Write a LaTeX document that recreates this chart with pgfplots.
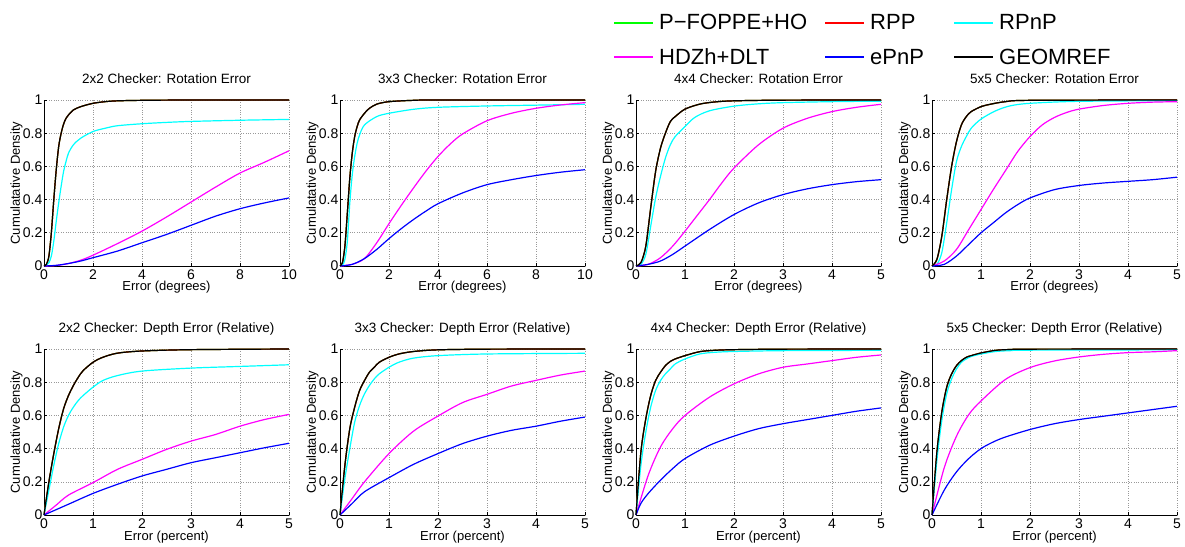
\documentclass[border=0pt]{standalone}
\usepackage{fontspec}
\setmainfont{Liberation Sans}
\usepackage{pgfplots}
\pgfplotsset{compat=1.18}
\usepackage{pgfplotstable}

\definecolor{mgreen}{rgb}{0,1,0}
\definecolor{mred}{rgb}{1,0,0}
\definecolor{mcyan}{rgb}{0,1,1}
\definecolor{mmag}{rgb}{1,0,1}
\definecolor{mblue}{rgb}{0,0,1}

% GEOMREF / RPP / P-FOPPE+HO curves (overlapping)
\pgfplotstableread{
x y
0 0
0.1 0.01
0.2 0.06
0.3 0.2
0.4 0.4
0.5 0.58
0.6 0.72
0.7 0.8
0.8 0.855
0.9 0.89
1.0 0.91
1.2 0.94
1.5 0.96
2 0.98
2.5 0.99
3 0.995
4 0.998
6 1
10 1
}\blkA
\pgfplotstableread{
x y
0 0
0.1 0.02
0.2 0.12
0.3 0.32
0.4 0.53
0.5 0.68
0.6 0.78
0.7 0.84
0.8 0.88
1 0.92
1.2 0.95
1.5 0.975
2 0.99
3 0.998
4 1
10 1
}\blkB
\pgfplotstableread{
x y
0 0
0.1 0.02
0.2 0.12
0.3 0.35
0.4 0.57
0.5 0.71
0.6 0.8
0.7 0.87
0.8 0.9
1 0.945
1.3 0.975
1.6 0.988
2 0.995
3 0.999
5 1
}\blkC
\pgfplotstableread{
x y
0 0
0.1 0.04
0.2 0.18
0.3 0.4
0.4 0.6
0.5 0.75
0.6 0.85
0.7 0.9
0.8 0.93
1 0.96
1.2 0.975
1.5 0.99
2 0.998
5 1
}\blkD
\pgfplotstableread{
x y
0 0
0.1 0.2
0.2 0.37
0.3 0.52
0.4 0.64
0.5 0.72
0.6 0.78
0.7 0.83
0.8 0.87
1 0.92
1.2 0.95
1.5 0.975
2 0.988
3 0.996
5 1
}\blkE
\pgfplotstableread{
x y
0 0
0.1 0.3
0.2 0.52
0.3 0.65
0.4 0.75
0.5 0.81
0.6 0.86
0.7 0.89
0.8 0.92
1 0.95
1.2 0.97
1.5 0.985
2 0.995
3 0.999
5 1
}\blkF
\pgfplotstableread{
x y
0 0
0.1 0.38
0.2 0.58
0.3 0.72
0.4 0.81
0.5 0.86
0.6 0.9
0.7 0.925
0.8 0.94
1 0.96
1.3 0.984
1.6 0.992
2 0.996
3 0.999
5 1
}\blkG
\pgfplotstableread{
x y
0 0
0.1 0.38
0.2 0.62
0.3 0.77
0.4 0.85
0.5 0.9
0.6 0.93
0.7 0.95
0.8 0.96
1 0.976
1.3 0.992
1.6 0.997
2 0.999
5 1
}\blkH

\pgfplotsset{
 cdf/.style={scale only axis, width=245pt, height=166pt, xmin=0, ymin=0, ymax=1,
   axis x line=bottom, axis y line=left, axis line style={-, line width=0.8pt},
   ytick={0,0.2,0.4,0.6,0.8,1},
   grid=major, grid style={dotted, gray!80, line width=0.6pt},
   tick align=inside, major tick length=3pt, tick style={black, line width=0.6pt},
   /pgf/number format/assume math mode=true,
   tick label style={font=\fontsize{14}{16}\selectfont},
   yticklabel style={inner xsep=1.5pt},
   title style={at={(axis description cs:0.5,1)}, anchor=base, yshift=10pt, font=\fontsize{13.5}{16}\selectfont},
   xlabel style={at={(axis description cs:0.5,0)}, anchor=base, yshift=-25pt, font=\fontsize{13}{15}\selectfont},
   ylabel style={at={(axis description cs:-0.098,0.5)}, anchor=base, font=\fontsize{13}{15}\selectfont},
   ylabel={Cumulatative Density},
   every axis plot/.append style={line width=1.2pt, smooth, tension=0.5},
   clip=false,
 },
 rot10/.style={cdf, xmax=10, xtick={0,2,4,6,8,10}, xlabel={Error (degrees)}},
 rot5/.style={cdf, xmax=5, xtick={0,1,2,3,4,5}, xlabel={Error (degrees)}},
 dep5/.style={cdf, xmax=5, xtick={0,1,2,3,4,5}, xlabel={Error (percent)}},
 legax/.style={scale only axis, width=1185pt, height=546pt, xmin=0, xmax=1, ymin=0, ymax=1,
   hide axis, at={(0pt,0pt)}, anchor=south west,
   legend image code/.code={\draw[##1, line width=2pt] (0pt,0pt) -- (39pt,0pt);},
   legend style={draw=none, fill=none, inner xsep=0pt, inner ysep=0pt, anchor=north west,
     row sep=12.3pt, column sep=5pt,
     nodes={inner sep=0pt, text height=18pt, text depth=4pt, font=\fontsize{22}{26}\selectfont}},
   legend cell align=left},
}

\begin{document}
\begin{tikzpicture}
\path[use as bounding box] (0pt,0pt) rectangle (1185pt,546pt);

% ---------- Row 1 ----------
\begin{axis}[rot10, at={(44pt,280pt)}, anchor=south west, title={2x2 Checker: Rotation Error}]
\addplot[mgreen] table {\blkA};
\addplot[mred] table {\blkA};
\addplot[mcyan] coordinates {(0,0)(0.1,0.005)(0.2,0.02)(0.3,0.06)(0.4,0.15)(0.5,0.27)(0.6,0.38)(0.7,0.48)(0.8,0.57)(0.9,0.63)(1.0,0.68)(1.2,0.73)(1.5,0.77)(2,0.81)(2.5,0.83)(3,0.845)(4,0.857)(5,0.865)(6,0.871)(8,0.878)(10,0.883)};
\addplot[mmag] coordinates {(0,0)(0.5,0.003)(1,0.015)(1.5,0.035)(2,0.065)(3,0.135)(4,0.21)(5,0.295)(6,0.385)(7,0.475)(8,0.56)(9,0.625)(10,0.694)};
\addplot[mblue] coordinates {(0,0)(0.5,0.004)(1,0.015)(1.5,0.03)(2,0.05)(3,0.09)(4,0.14)(5,0.19)(6,0.245)(7,0.3)(8,0.345)(9,0.38)(10,0.41)};
\addplot[black] table {\blkA};
\end{axis}

\begin{axis}[rot10, at={(340pt,280pt)}, anchor=south west, title={3x3 Checker: Rotation Error}]
\addplot[mgreen] table {\blkB};
\addplot[mred] table {\blkB};
\addplot[mcyan] coordinates {(0,0)(0.1,0.005)(0.2,0.04)(0.3,0.15)(0.4,0.38)(0.5,0.55)(0.6,0.66)(0.7,0.74)(0.8,0.79)(1,0.85)(1.5,0.9)(2,0.92)(3,0.944)(4,0.956)(6,0.964)(8,0.969)(10,0.974)};
\addplot[mmag] coordinates {(0,0)(0.5,0.01)(1,0.045)(1.5,0.14)(2,0.255)(2.5,0.365)(3,0.47)(3.5,0.57)(4,0.66)(4.5,0.735)(5,0.795)(6,0.875)(7,0.92)(8,0.95)(9,0.97)(10,0.984)};
\addplot[mblue] coordinates {(0,0)(0.5,0.01)(1,0.045)(1.5,0.1)(2,0.165)(2.5,0.225)(3,0.28)(3.5,0.33)(4,0.375)(5,0.44)(6,0.49)(7,0.52)(8,0.545)(9,0.565)(10,0.58)};
\addplot[black] table {\blkB};
\end{axis}

\begin{axis}[rot5, at={(636pt,280pt)}, anchor=south west, title={4x4 Checker: Rotation Error}]
\addplot[mgreen] table {\blkC};
\addplot[mred] table {\blkC};
\addplot[mcyan] coordinates {(0,0)(0.1,0.01)(0.2,0.07)(0.3,0.24)(0.4,0.41)(0.5,0.54)(0.6,0.65)(0.7,0.73)(0.8,0.78)(1,0.84)(1.2,0.895)(1.5,0.935)(2,0.963)(2.5,0.977)(3,0.984)(4,0.99)(5,0.993)};
\addplot[mmag] coordinates {(0,0)(0.25,0.01)(0.5,0.05)(0.75,0.12)(1,0.21)(1.25,0.305)(1.5,0.4)(1.75,0.5)(2,0.59)(2.5,0.73)(3,0.83)(3.5,0.89)(4,0.93)(4.5,0.956)(5,0.974)};
\addplot[mblue] coordinates {(0,0)(0.25,0.01)(0.5,0.03)(0.75,0.07)(1,0.12)(1.5,0.22)(2,0.31)(2.5,0.38)(3,0.43)(3.5,0.465)(4,0.49)(4.5,0.508)(5,0.52)};
\addplot[black] table {\blkC};
\end{axis}

\begin{axis}[rot5, at={(932pt,280pt)}, anchor=south west, title={5x5 Checker: Rotation Error}]
\addplot[mgreen] table {\blkD};
\addplot[mred] table {\blkD};
\addplot[mcyan] coordinates {(0,0)(0.1,0.01)(0.2,0.08)(0.3,0.26)(0.4,0.46)(0.5,0.63)(0.6,0.72)(0.7,0.78)(0.8,0.83)(1,0.885)(1.3,0.935)(1.6,0.965)(2,0.98)(3,0.992)(5,0.996)};
\addplot[mmag] coordinates {(0,0)(0.25,0.03)(0.5,0.1)(0.75,0.22)(1,0.34)(1.25,0.46)(1.5,0.575)(1.75,0.69)(2,0.78)(2.25,0.85)(2.5,0.895)(2.75,0.925)(3,0.945)(3.5,0.967)(4,0.98)(4.5,0.987)(5,0.99)};
\addplot[mblue] coordinates {(0,0)(0.25,0.01)(0.5,0.06)(0.75,0.13)(1,0.2)(1.25,0.26)(1.5,0.32)(1.75,0.37)(2,0.41)(2.5,0.46)(3,0.485)(3.5,0.5)(4,0.51)(4.5,0.52)(5,0.535)};
\addplot[black] table {\blkD};
\end{axis}

% ---------- Row 2 ----------
\begin{axis}[dep5, at={(44pt,31pt)}, anchor=south west, title={2x2 Checker: Depth Error (Relative)}]
\addplot[mgreen] table {\blkE};
\addplot[mred] table {\blkE};
\addplot[mcyan] coordinates {(0,0)(0.1,0.15)(0.2,0.3)(0.3,0.43)(0.4,0.53)(0.5,0.6)(0.6,0.65)(0.7,0.69)(0.8,0.72)(1,0.77)(1.2,0.81)(1.5,0.84)(2,0.867)(3,0.885)(4,0.895)(5,0.905)};
\addplot[mmag] coordinates {(0,0)(0.25,0.06)(0.5,0.12)(1,0.195)(1.5,0.275)(2,0.335)(2.5,0.395)(3,0.445)(3.5,0.485)(4,0.535)(4.5,0.575)(5,0.606)};
\addplot[mblue] coordinates {(0,0)(0.5,0.065)(1,0.13)(1.5,0.185)(2,0.235)(2.5,0.275)(3,0.315)(3.5,0.345)(4,0.375)(4.5,0.405)(5,0.432)};
\addplot[black] table {\blkE};
\end{axis}

\begin{axis}[dep5, at={(340pt,31pt)}, anchor=south west, title={3x3 Checker: Depth Error (Relative)}]
\addplot[mgreen] table {\blkF};
\addplot[mred] table {\blkF};
\addplot[mcyan] coordinates {(0,0)(0.1,0.22)(0.2,0.4)(0.3,0.56)(0.4,0.66)(0.5,0.73)(0.6,0.78)(0.7,0.82)(0.8,0.85)(1,0.89)(1.2,0.92)(1.5,0.945)(2,0.96)(3,0.97)(5,0.974)};
\addplot[mmag] coordinates {(0,0)(0.25,0.1)(0.5,0.2)(1,0.37)(1.5,0.505)(2,0.596)(2.5,0.677)(3,0.727)(3.5,0.777)(4,0.811)(4.5,0.843)(5,0.867)};
\addplot[mblue] coordinates {(0,0)(0.25,0.07)(0.5,0.14)(1,0.225)(1.5,0.305)(2,0.37)(2.5,0.43)(3,0.475)(3.5,0.51)(4,0.535)(4.5,0.565)(5,0.59)};
\addplot[black] table {\blkF};
\end{axis}

\begin{axis}[dep5, at={(636pt,31pt)}, anchor=south west, title={4x4 Checker: Depth Error (Relative)}]
\addplot[mgreen] table {\blkG};
\addplot[mred] table {\blkG};
\addplot[mcyan] coordinates {(0,0)(0.1,0.3)(0.2,0.5)(0.3,0.65)(0.4,0.75)(0.5,0.81)(0.6,0.85)(0.7,0.88)(0.8,0.91)(1,0.94)(1.3,0.97)(1.6,0.98)(2,0.985)(3,0.99)(5,0.992)};
\addplot[mmag] coordinates {(0,0)(0.25,0.24)(0.5,0.41)(0.75,0.52)(1,0.6)(1.5,0.71)(2,0.79)(2.5,0.85)(3,0.89)(3.5,0.91)(4,0.93)(4.5,0.95)(5,0.964)};
\addplot[mblue] coordinates {(0,0)(0.1,0.07)(0.25,0.13)(0.5,0.21)(0.75,0.28)(1,0.34)(1.5,0.42)(2,0.475)(2.5,0.52)(3,0.55)(3.5,0.575)(4,0.6)(4.5,0.625)(5,0.645)};
\addplot[black] table {\blkG};
\end{axis}

\begin{axis}[dep5, at={(932pt,31pt)}, anchor=south west, title={5x5 Checker: Depth Error (Relative)}]
\addplot[mgreen] table {\blkH};
\addplot[mred] table {\blkH};
\addplot[mcyan] coordinates {(0,0)(0.1,0.33)(0.2,0.57)(0.3,0.73)(0.4,0.82)(0.5,0.88)(0.6,0.92)(0.7,0.94)(0.8,0.955)(1,0.97)(1.3,0.985)(1.6,0.99)(2,0.993)(5,0.995)};
\addplot[mmag] coordinates {(0,0)(0.25,0.285)(0.5,0.475)(0.75,0.605)(1,0.687)(1.5,0.817)(2,0.888)(2.5,0.928)(3,0.952)(3.5,0.968)(4,0.978)(4.5,0.983)(5,0.99)};
\addplot[mblue] coordinates {(0,0)(0.25,0.15)(0.5,0.26)(0.75,0.34)(1,0.4)(1.25,0.44)(1.5,0.47)(2,0.515)(2.5,0.55)(3,0.575)(3.5,0.595)(4,0.615)(4.5,0.635)(5,0.655)};
\addplot[black] table {\blkH};
\end{axis}

% ---------- Legend (three columns) ----------
\begin{axis}[legax, legend style={at={(0.5173,0.97875)}}]
\addlegendimage{mgreen}\addlegendentry{P−FOPPE+HO}
\addlegendimage{mmag}\addlegendentry{HDZh+DLT}
\end{axis}
\begin{axis}[legax, legend style={at={(0.69536,0.97875)}}]
\addlegendimage{mred}\addlegendentry{RPP}
\addlegendimage{mblue}\addlegendentry{ePnP}
\end{axis}
\begin{axis}[legax, legend style={at={(0.80422,0.97875)}}]
\addlegendimage{mcyan}\addlegendentry{RPnP}
\addlegendimage{black}\addlegendentry{GEOMREF}
\end{axis}
\end{tikzpicture}
\end{document}
